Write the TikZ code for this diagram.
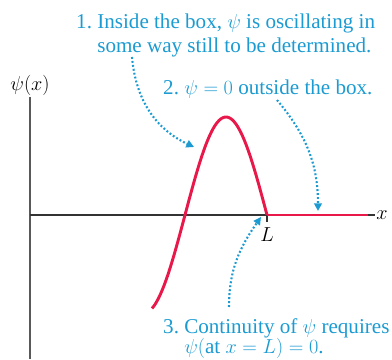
\documentclass[tikz,border=0pt]{standalone}
\usepackage{fontspec}
\setmainfont{Liberation Serif}
\usetikzlibrary{arrows.meta}
\definecolor{notecol}{HTML}{1B9BD1}
\definecolor{wavecol}{HTML}{E8194A}

\begin{document}
\begin{tikzpicture}[
  x=0.03cm,y=0.03cm,
  every node/.style={font=\fontsize{16}{19}\selectfont},
  axis/.style={line width=1pt,black!80},
  wave/.style={line width=2.5pt,wavecol},
  note/.style={text=notecol,align=left,inner sep=0pt,font=\fontsize{18}{20.8}\selectfont},
  hint/.style={notecol,line width=1.8pt,dash pattern=on 1.6pt off 1.8pt,
    -{Triangle[length=6.5pt,width=6.5pt]}}
]
\useasboundingbox (0,0) rectangle (392,359);
% axes
\node[inner sep=1pt] (ylab) at (30,274) {$\psi(x)$};
\coordinate (ytop) at (30,262);
\coordinate (ybot) at (30,0);
\coordinate (o) at (30,144);
\coordinate (xend) at (375,144);
\node[anchor=west,inner sep=1pt] (xlab) at (xend) {$x$};
\draw[axis,black!65] (ytop) -- (ybot);
\draw[axis] (o) -- (xend);
% wave function
\coordinate (L) at (267,144);
\coordinate (redend) at (368,144);
\draw[axis] (L) -- ++(0,-7);
\node[inner sep=0pt] (Llab) at (267,124) {$L$};
\draw[wave,domain=152:267,samples=80,smooth] plot (\x,{144+98*sin(180*(\x-185)/82)});
\draw[wave] (L) -- (redend);
% notes
\node[note,anchor=north west] (t1) at (76,345.5)
  {1.~Inside the box, $\psi$ is oscillating in\\\phantom{1.~}some way still to be determined.};
\node[note,anchor=base west] (t2) at (163,264) {2.~$\psi=0$ outside the box.};
\node[note,anchor=north west,font=\fontsize{18}{17}\selectfont] (t3) at (163,40.5)
  {3.~Continuity of $\psi$ requires\\\phantom{3.~}$\psi(\mbox{at }x=L)=0$.};
% hint arrows
\coordinate (s1) at (132,302);
\coordinate (e1) at (194,212);
\coordinate (s2) at (277,259);
\coordinate (e2) at (318,148);
\coordinate (s3) at (229,52);
\coordinate (e3) at (261,142);
\draw[hint] (s1) to[out=-85,in=155] (e1);
\draw[hint] (s2) to[out=-50,in=90] (e2);
\draw[hint] (s3) to[out=90,in=-125] (e3);
\end{tikzpicture}
\end{document}
